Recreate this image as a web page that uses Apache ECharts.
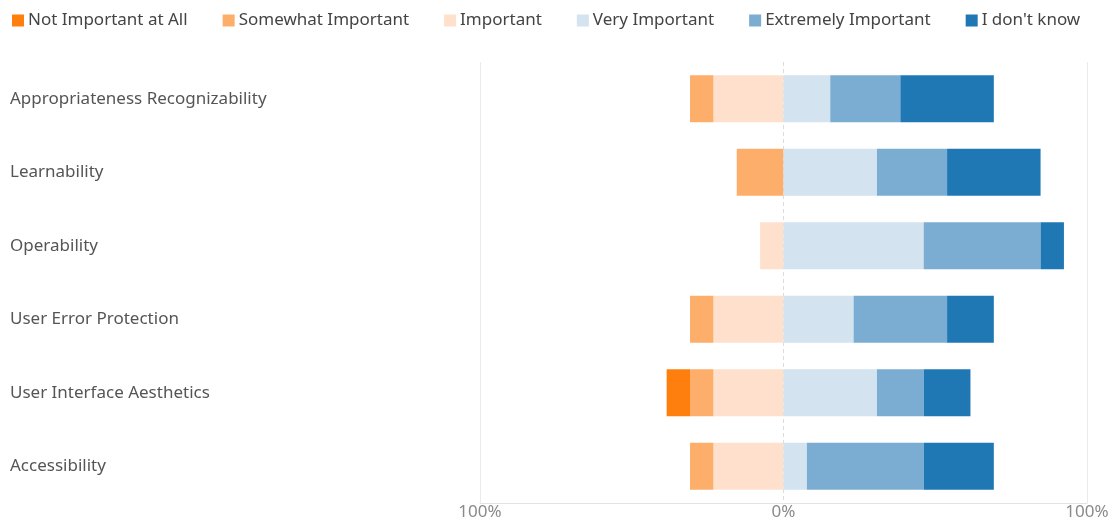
<!DOCTYPE html>
<html>
<head>
<meta charset="utf-8">
<script src="https://cdn.jsdelivr.net/npm/echarts@6/dist/echarts.min.js"></script>
<style>html,body{margin:0;padding:0;background:#fff;}#c{width:1118px;height:522px;}</style>
</head>
<body>
<div id="c"></div>
<script>
const categories = ["Appropriateness Recognizability","Learnability","Operability","User Error Protection","User Interface Aesthetics","Accessibility"];
// percentages of respondents (left side shown as negative)
const notImportant = [0, 0, 0, 0, -7.7, 0];
const somewhatImportant = [-7.7, -15.4, 0, -7.7, -7.7, -7.7];
const important = [-23.1, 0, -7.7, -23.1, -23.1, -23.1];
const veryImportant = [15.4, 30.8, 46.2, 23.1, 30.8, 7.7];
const extremelyImportant = [23.1, 23.1, 38.5, 30.8, 15.4, 38.5];
const dontKnow = [30.8, 30.8, 7.7, 15.4, 15.4, 23.1];
const seriesNames = ["Not Important at All","Somewhat Important","Important","Very Important","Extremely Important","I don't know"];
const colors = ["#ff7f0e","#fdae6b","#fee0cc","#d3e3ef","#7bacd2","#1f77b4"];
const xTicks = [-100, 0, 100];

const font = "'Noto Sans', 'Open Sans', sans-serif";
const dataBy = [notImportant, somewhatImportant, important, veryImportant, extremelyImportant, dontKnow];
// stacking order: closest to zero first
const order = [2, 1, 0, 3, 4, 5];
const series = order.map((i, k) => {
  const s = {
    name: seriesNames[i],
    type: 'bar',
    stack: 'total',
    barWidth: 47,
    itemStyle: { color: colors[i] },
    data: dataBy[i],
    z: 3
  };
  if (k === 0) {
    s.markLine = {
      silent: true, symbol: 'none', label: { show: false },
      lineStyle: { color: '#dcdcdc', type: [4, 3], width: 1 },
      data: [{ xAxis: 0 }], z: 1
    };
  }
  return s;
});

const chart = echarts.init(document.getElementById('c'));
chart.setOption({
  animation: false,
  color: colors,
  legend: {
    data: seriesNames,
    left: 7, top: 7,
    itemWidth: 12, itemHeight: 12, itemGap: 35,
    icon: 'rect',
    textStyle: { fontFamily: font, fontSize: 17, color: '#444', padding: [0, 0, 0, -1] }
  },
  grid: { left: 480, right: 31, top: 62, bottom: 19 },
  xAxis: {
    type: 'value', min: xTicks[0], max: xTicks[2], interval: 100,
    axisLine: { show: true, lineStyle: { color: '#e3e3e3' } },
    axisTick: { show: false },
    axisLabel: { margin: 1, fontFamily: font, fontSize: 17, color: '#8a8a8a',
      formatter: v => Math.abs(v) + '%' },
    splitLine: { show: true, lineStyle: { color: ['#ebebeb', 'rgba(0,0,0,0)', '#ebebeb'] } }
  },
  yAxis: {
    type: 'category', data: categories, inverse: true,
    axisLine: { show: false }, axisTick: { show: false },
    axisLabel: { align: 'left', margin: 470, fontFamily: font, fontSize: 17, color: '#555', padding: [3, 0, 0, 0] }
  },
  series: series
});
</script>
</body>
</html>
